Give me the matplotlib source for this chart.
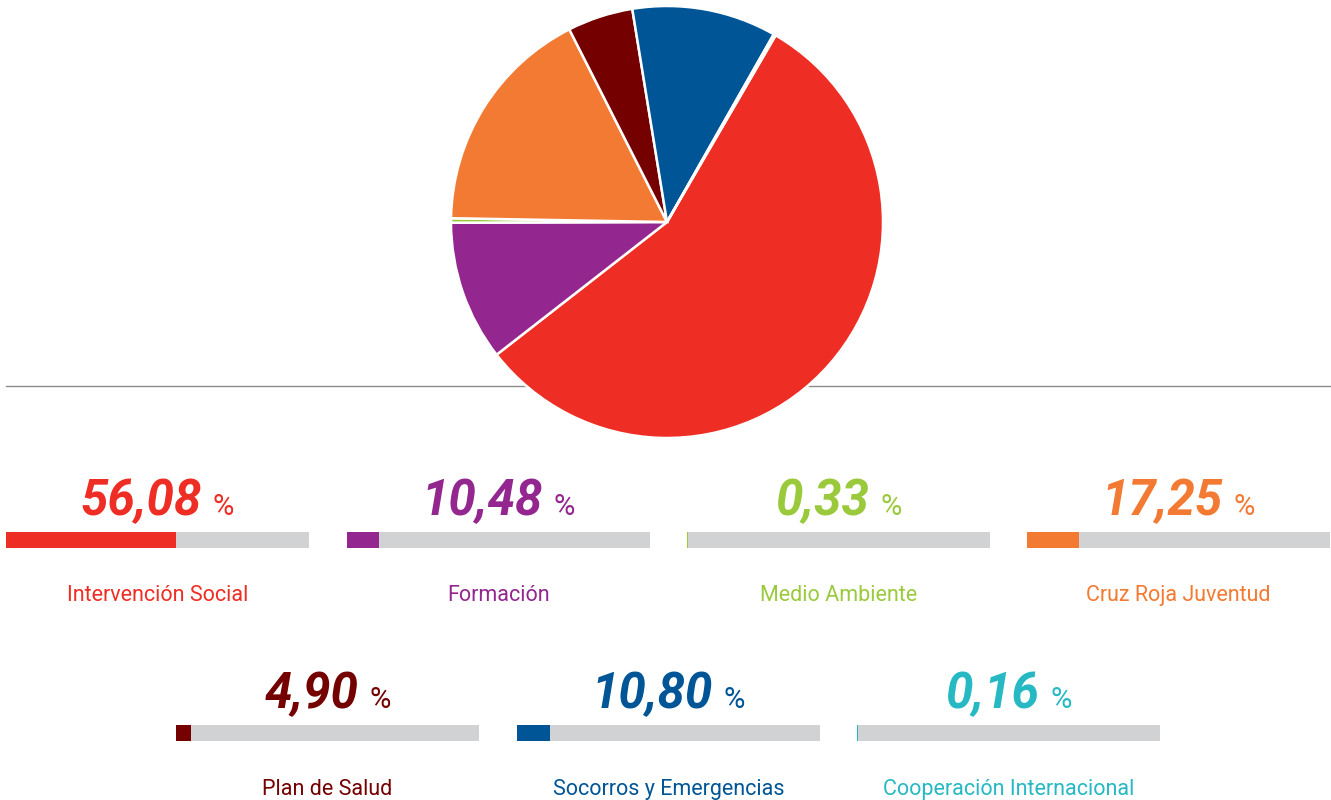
import matplotlib
matplotlib.use("Agg")
from matplotlib import pyplot as plt

plt.rcParams['font.family'] = ['Roboto', 'DejaVu Sans']

categories = ["Intervención Social", "Formación", "Medio Ambiente", "Cruz Roja Juventud",
              "Plan de Salud", "Socorros y Emergencias", "Cooperación Internacional"]
values = [56.08, 10.48, 0.33, 17.25, 4.90, 10.80, 0.16]
value_labels = ["56,08", "10,48", "0,33", "17,25", "4,90", "10,80", "0,16"]
colors = ["#EE2E24", "#93278F", "#9ACA3C", "#F37A32", "#740000", "#005596", "#26B9C4"]

W, H = 1331, 800
fig = plt.figure(figsize=(W / 100, H / 100), dpi=100)

# overlay axes in pixel coordinates
ax = fig.add_axes([0, 0, 1, 1])
ax.set_xlim(0, W)
ax.set_ylim(H, 0)
ax.axis("off")

# separator line behind the pie
ax.plot([6, 1330], [386, 386], color="#8C8C8C", lw=1, zorder=1)

# pie
cx, cy, r = 667, 222, 216
pax = fig.add_axes([(cx - r) / W, (H - cy - r) / H, 2 * r / W, 2 * r / H])
pax.pie(values, colors=colors, startangle=59.8, counterclock=False,
        wedgeprops=dict(edgecolor="white", linewidth=1.8))
pax.set_xlim(-1.0, 1.0)
pax.set_ylim(-1.0, 1.0)
pax.set_aspect("equal")
pax.axis("off")

# bars + labels
bar_w, bar_h = 303, 16
lefts = [6, 347, 687, 1027, 176, 517, 857]
rows = [0, 0, 0, 0, 1, 1, 1]
bar_y = [540, 733]
num_y = [515, 708]
lab_y = [601, 795]

renderer = fig.canvas.get_renderer()
for i, cat in enumerate(categories):
    row = rows[i]
    x0 = lefts[i]
    ax.barh(bar_y[row], bar_w, left=x0, height=bar_h, color="#D1D2D4", zorder=2)
    ax.barh(bar_y[row], max(bar_w * values[i] / 100, 1.2), left=x0, height=bar_h,
            color=colors[i], zorder=3)
    xc = x0 + bar_w / 2

    t1 = ax.text(0, num_y[row], value_labels[i], color=colors[i], fontsize=35.5,
                 fontweight="bold", fontstyle="italic", ha="left", va="baseline")
    t2 = ax.text(0, num_y[row], "%", color=colors[i], fontsize=21,
                 ha="left", va="baseline")
    w1 = t1.get_window_extent(renderer).width
    w2 = t2.get_window_extent(renderer).width
    gap = 11
    start = xc - (w1 + gap + w2) / 2
    t1.set_x(start)
    t2.set_x(start + w1 + gap)

    ax.text(xc, lab_y[row], cat, color=colors[i], fontsize=15.5,
            ha="center", va="baseline")

fig.savefig("out.png", dpi=100, facecolor="white")
